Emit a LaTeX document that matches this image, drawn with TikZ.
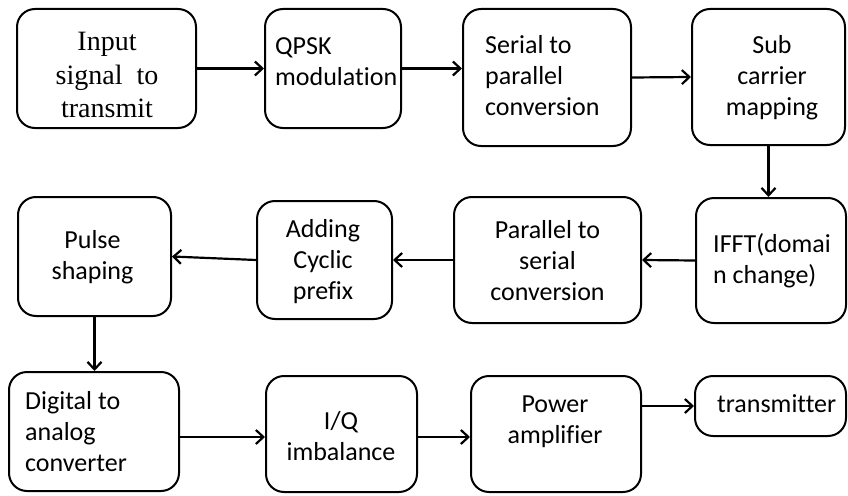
\documentclass[tikz,border=0pt]{standalone}
\usepackage{fontspec}
\setmainfont[Ligatures=NoCommon,RawFeature=-liga]{Carlito}
\newfontfamily\serifbox{Liberation Serif}
\usetikzlibrary{arrows.meta}
\begin{document}
\begin{tikzpicture}[x=1pt,y=-1pt,
  box/.style={draw=black,line width=2pt,rounded corners=18pt,inner sep=0pt},
  txt/.style={inner sep=0pt,font=\fontsize{26}{31}\selectfont},
  stxt/.style={inner sep=0pt,font=\serifbox\fontsize{28}{33.5}\selectfont},
  flow/.style={line width=2.2pt,-{Straight Barb[length=7.5pt,width=14pt]}}]
\useasboundingbox (0,0) rectangle (848,495);
% boxes
\node[box,minimum width=179pt,minimum height=119pt] (in) at (106.5,68.5) {};
\node[box,minimum width=136pt,minimum height=119pt] (qpsk) at (333,68.5) {};
\node[box,minimum width=168pt,minimum height=137pt] (sp) at (547,77.5) {};
\node[box,minimum width=153pt,minimum height=136pt] (sub) at (768.5,77) {};
\node[box,minimum width=150pt,minimum height=125pt] (ifft) at (771,260.5) {};
\node[box,minimum width=187pt,minimum height=126pt] (ps) at (547.5,260) {};
\node[box,minimum width=135pt,minimum height=118pt] (acp) at (324.5,260) {};
\node[box,minimum width=153pt,minimum height=119pt] (pulse) at (94.5,256.5) {};
\node[box,minimum width=170pt,minimum height=119pt] (dac) at (94,431.5) {};
\node[box,minimum width=151pt,minimum height=116pt] (iq) at (341.5,434) {};
\node[box,minimum width=170pt,minimum height=116pt] (pa) at (556,434) {};
\node[box,minimum width=151pt,minimum height=60pt] (tx) at (770.5,406) {};
% texts
\node[stxt,align=center] (tin) at (107,75) {Input\\signal\ \ to\\transmit};
\node[txt,align=left,anchor=west] (tqpsk) at (275,61.5) {QPSK\\modulation};
\node[txt,align=left,anchor=west] (tsp) at (485,76) {Serial to\\parallel\\conversion};
\node[txt,align=center] (tsub) at (772,77.5) {Sub\\carrier\\mapping};
\node[txt,align=left,anchor=west] (tifft) at (713,261) {IFFT(domai\\n change)};
\node[txt,align=center] (tps) at (547.5,261) {Parallel to\\serial\\conversion};
\node[txt,align=center] (tacp) at (323,261.5) {Adding\\Cyclic\\prefix};
\node[txt,align=center] (tpulse) at (92.5,257.5) {Pulse\\shaping};
\node[txt,align=left,anchor=west] (tdac) at (25,431.5) {Digital to\\analog\\converter};
\node[txt,align=center] (tiq) at (341,436.5) {I/Q\\imbalance};
\node[txt,align=center] (tpa) at (555,422) {Power\\amplifier};
\node[txt,anchor=west] (ttx) at (717,404) {transmitter};
% connectors
\draw[flow] (in.east) -- (qpsk.west);
\draw[flow] (qpsk.east) -- (qpsk.east -| sp.west);
\draw[flow] (sp.east) -- (sub.west);
\draw[flow] (sub.south) -- (sub.south |- ifft.north);
\draw[flow] (ifft.west) -- (ps.east);
\draw[flow] (ps.west) -- (acp.east);
\draw[flow] (acp.west) -- (pulse.east);
\draw[flow] (pulse.south) -- (pulse.south |- dac.north);
\draw[flow] ([yshift=-5.5pt]dac.east) -- ([yshift=-5.5pt]dac.east -| iq.west);
\draw[flow] ([yshift=-3pt]iq.east) -- ([yshift=-3pt]iq.east -| pa.west);
\draw[flow] (tx.west -| pa.east) -- (tx.west);
\end{tikzpicture}
\end{document}
